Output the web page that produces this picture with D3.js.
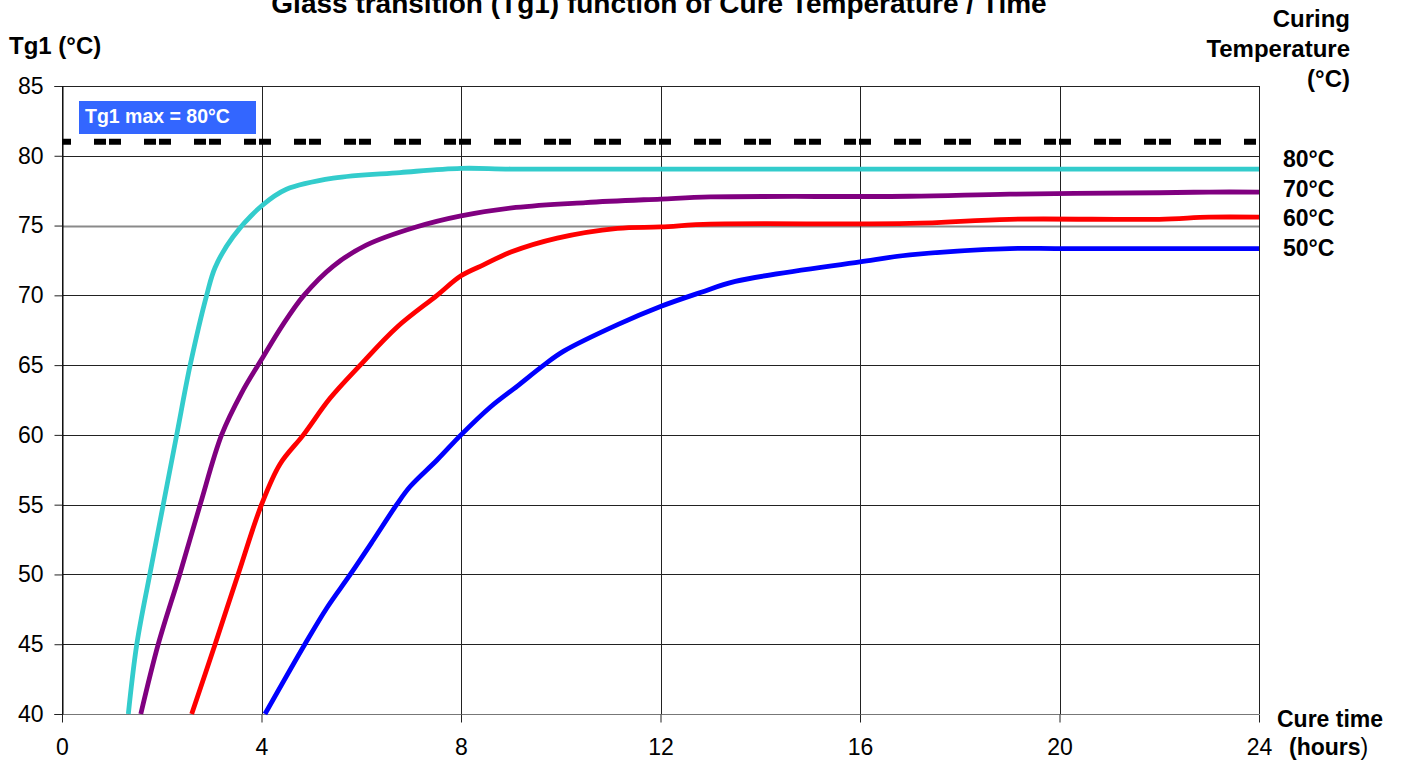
<!DOCTYPE html>
<html>
<head>
<meta charset="utf-8">
<script src="https://cdn.jsdelivr.net/npm/d3@7/dist/d3.min.js"></script>
<style>
  html, body { margin: 0; padding: 0; background: #fff; }
  svg { display: block; font-family: Arial, "Liberation Sans", sans-serif; }
</style>
</head>
<body>
<svg id="chart" width="1403" height="764"></svg>
<script>
// ---- data ----
const seriesNames = ["80°C", "70°C", "60°C", "50°C"];
const seriesColors = ["#33CCCC", "#800080", "#FF0000", "#0000FF"];

const time80 = [1.33, 1.5, 1.76, 2.03, 2.3, 2.57, 2.9, 3.07, 3.43, 4.0, 4.5, 5.44, 6.78, 8, 9, 12, 16, 20, 24];
const tg80   = [40, 45, 50, 55, 60, 65, 70, 72, 74.2, 76.4, 77.6, 78.4, 78.8, 79.1, 79.05, 79.05, 79.05, 79.05, 79.05];

const time70 = [1.58, 1.93, 2.36, 2.77, 3.2, 3.6, 4.0, 4.43, 4.85, 5.44, 6.1, 7.1, 8, 9.1, 10.5, 12, 13, 17, 19, 22, 23, 24];
const tg70   = [40, 45, 50, 55, 60, 63, 65.4, 67.9, 70, 72.1, 73.6, 74.9, 75.7, 76.3, 76.65, 76.9, 77.05, 77.1, 77.25, 77.35, 77.4, 77.4];

const time60 = [2.6, 3.07, 3.53, 4.0, 4.37, 4.84, 5.37, 5.98, 6.71, 7.52, 8, 8.46, 9, 9.93, 11.14, 12, 13, 17, 19, 22, 23, 24];
const tg60   = [40, 45, 50, 55, 57.9, 60, 62.6, 65, 67.7, 70, 71.4, 72.2, 73.1, 74.1, 74.8, 74.9, 75.1, 75.15, 75.45, 75.45, 75.6, 75.6];

const time50 = [4.07, 4.87, 5.31, 5.78, 6.24, 6.71, 6.98, 7.52, 8, 8.59, 9.13, 9.66, 10.06, 11.14, 12, 12.8, 13.5, 16, 17, 19, 20, 24];
const tg50   = [40, 45, 47.6, 50, 52.45, 55, 56.3, 58.2, 60, 62, 63.5, 65, 66, 67.9, 69.2, 70.2, 71.0, 72.4, 72.9, 73.35, 73.35, 73.35];

const tgMax = 81;           // dashed reference line
const tgMaxLabel = "Tg1 max = 80°C";
const xTicks = [0, 4, 8, 12, 16, 20, 24];
const yTicks = [40, 45, 50, 55, 60, 65, 70, 75, 80, 85];

const title = "Glass transition (Tg1) function of Cure Temperature / Time";

// ---- layout ----
const FONT = 'Arial, "Liberation Sans", sans-serif';
const svg = d3.select("#chart");
const x = d3.scaleLinear().domain([0, 24]).range([62, 1259]);
const y = d3.scaleLinear().domain([40, 85]).range([714, 86]);

const labelDy = [-2, 5, 9, 7];
const series = [
  { name: seriesNames[0], color: seriesColors[0], t: time80, v: tg80 },
  { name: seriesNames[1], color: seriesColors[1], t: time70, v: tg70 },
  { name: seriesNames[2], color: seriesColors[2], t: time60, v: tg60 },
  { name: seriesNames[3], color: seriesColors[3], t: time50, v: tg50 }
];

// grid
const grid = svg.append("g");
grid.selectAll("line.h").data(yTicks).join("line")
  .attr("x1", x(0)).attr("x2", x(24))
  .attr("y1", d => Math.round(y(d)) + 0.5).attr("y2", d => Math.round(y(d)) + 0.5)
  .attr("stroke", d => d === 75 ? "#8a8a8a" : (d === 40 ? "#777" : "#222"))
  .attr("stroke-width", d => d === 75 ? 2 : 1);
grid.selectAll("line.v").data(xTicks).join("line")
  .attr("y1", y(85)).attr("y2", y(40))
  .attr("x1", d => Math.round(x(d)) + 0.5).attr("x2", d => Math.round(x(d)) + 0.5)
  .attr("stroke", "#222").attr("stroke-width", 1);

// axes
const yAxis = d3.axisLeft(y).tickValues(yTicks).tickSize(8).tickPadding(11);
const gy = svg.append("g").attr("transform", `translate(${Math.round(x(0)) + 0.5},0)`).call(yAxis);
gy.select(".domain").attr("stroke", "#000");
gy.selectAll(".tick line").attr("stroke", "#222");
gy.selectAll(".tick text").attr("font-size", 23).attr("fill", "#000").attr("font-family", FONT);

const xAxis = d3.axisBottom(x).tickValues(xTicks).tickSize(8).tickPadding(16);
const gx = svg.append("g").attr("transform", `translate(0,${Math.round(y(40)) + 0.5})`).call(xAxis);
gx.select(".domain").remove();
gx.selectAll(".tick line").attr("stroke", "#222");
gx.selectAll(".tick text").attr("font-size", 23).attr("fill", "#000").attr("font-family", FONT);

// dashed max line
svg.append("line")
  .attr("x1", x(0)).attr("x2", x(24))
  .attr("y1", y(tgMax)).attr("y2", y(tgMax))
  .attr("stroke", "#000").attr("stroke-width", 6)
  .attr("stroke-dasharray", "12,3,12,23")
  .attr("stroke-dashoffset", 18);

// max label box
const boxG = svg.append("g");
boxG.append("rect").attr("x", 79).attr("y", 101).attr("width", 177).attr("height", 33).attr("fill", "#3366FF");
boxG.append("text").attr("x", 85).attr("y", 123).attr("fill", "#fff")
  .attr("font-weight", "bold").attr("font-size", 19.5).text(tgMaxLabel);

// curves
const line = d3.line().x(d => x(d[0])).y(d => y(d[1])).curve(d3.curveCatmullRom.alpha(0.5));
svg.append("g").selectAll("path").data(series).join("path")
  .attr("d", s => line(s.t.map((t, i) => [t, s.v[i]])))
  .attr("fill", "none").attr("stroke", s => s.color).attr("stroke-width", 4.8)
  .attr("stroke-linejoin", "round");

// series labels
svg.append("g").selectAll("text").data(series).join("text")
  .attr("x", 1283)
  .attr("y", (s, i) => y(s.v[s.v.length - 1]) + labelDy[i])
  .attr("font-weight", "bold").attr("font-size", 23).attr("fill", "#000")
  .text(s => s.name);

// titles
svg.append("text").attr("x", 659).attr("y", 13).attr("text-anchor", "middle")
  .attr("font-weight", "bold").attr("font-size", 28).text(title);
svg.append("text").attr("x", 9).attr("y", 54)
  .attr("font-weight", "bold").attr("font-size", 24).text("Tg1 (°C)");

const rt = svg.append("g").attr("font-weight", "bold").attr("font-size", 24).attr("text-anchor", "end");
rt.append("text").attr("x", 1350).attr("y", 27).text("Curing");
rt.append("text").attr("x", 1350).attr("y", 57).text("Temperature");
rt.append("text").attr("x", 1350).attr("y", 87).text("(°C)");

svg.append("text").attr("x", 1277).attr("y", 727)
  .attr("font-weight", "bold").attr("font-size", 23).text("Cure time");
const hrs = svg.append("text").attr("x", 1289).attr("y", 755).attr("font-size", 23);
hrs.append("tspan").attr("font-weight", "bold").text("(hours");
hrs.append("tspan").text(")");
</script>
</body>
</html>
